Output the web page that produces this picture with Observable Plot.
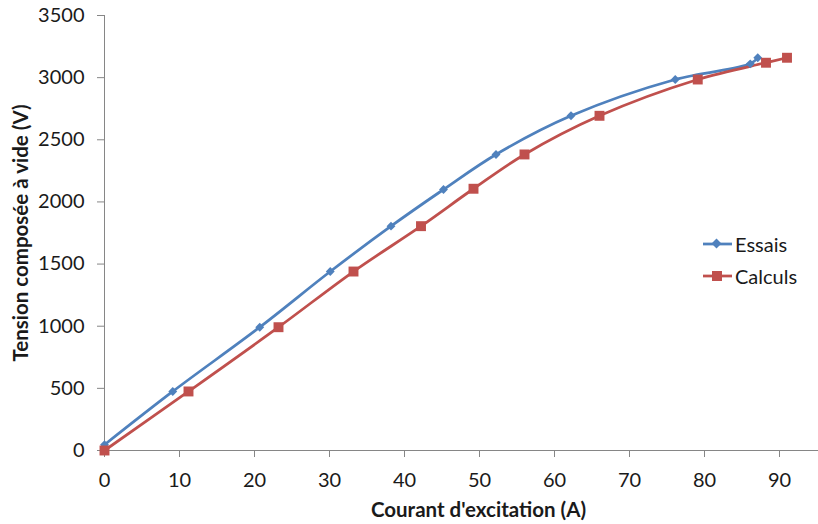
<!DOCTYPE html>
<html>
<head>
<meta charset="utf-8">
<script src="https://cdn.jsdelivr.net/npm/d3@7"></script>
<script src="https://cdn.jsdelivr.net/npm/@observablehq/plot@0.6"></script>
<style>
  html, body { margin: 0; padding: 0; background: #fff; }
  #wrap { position: relative; width: 818px; height: 524px; font-family: Lato, "Open Sans", sans-serif; }
  #legend { position: absolute; left: 703px; top: 228px; font-size: 20px; color: #1a1a1a; }
  #legend .item { display: flex; align-items: center; height: 32px; }
  #legend .item + .item { margin-top: 0px; }
  #legend svg { margin-right: 3px; }
</style>
</head>
<body>
<div id="wrap">
  <div id="legend"></div>
</div>
<script>
// Series: Essais (measured) and Calculs (computed)
const essaisX = [0, 9.1, 20.7, 30.1, 38.2, 45.2, 52.2, 62.2, 76.1, 86.1, 87.1];
const essaisY = [46, 475, 992, 1440, 1805, 2100, 2382, 2693, 2985, 3111, 3160];
const calculsX = [0, 11.2, 23.2, 33.2, 42.2, 49.2, 56.0, 66.0, 79.1, 88.2, 91.0];
const calculsY = [0, 475, 992, 1440, 1805, 2106, 2382, 2693, 2985, 3120, 3160];
const seriesNames = ["Essais", "Calculs"];
const seriesColors = ["#4F81BD", "#C0504D"];
const xTicks = [0, 10, 20, 30, 40, 50, 60, 70, 80, 90];
const yTicks = [0, 500, 1000, 1500, 2000, 2500, 3000, 3500];
const xTitle = "Courant d'excitation (A)";
const yTitle = "Tension composée à vide (V)";

const essais = essaisX.map((x, i) => ({x, y: essaisY[i]}));
const calculs = calculsX.map((x, i) => ({x, y: calculsY[i]}));

const axisGray = "#868686";
const textColor = "#1a1a1a";

const chart = Plot.plot({
  width: 818,
  height: 524,
  marginLeft: 104,
  marginRight: 0,
  marginTop: 15,
  marginBottom: 74,
  style: { fontFamily: "Lato, 'Open Sans', sans-serif", background: "#fff" },
  x: { domain: [0, 95.2] },
  y: { domain: [0, 3500] },
  marks: [
    Plot.axisX({ticks: xTicks, tickFormat: d3.format("d"), tickSize: 7, tickPadding: 15, fontSize: 20, stroke: axisGray, fill: textColor, label: null}),
    Plot.axisY({ticks: yTicks, tickFormat: d3.format("d"), tickSize: 7, tickPadding: 13, fontSize: 20, stroke: axisGray, fill: textColor, label: null}),
    Plot.ruleX([0], {stroke: axisGray}),
    Plot.ruleY([0], {stroke: axisGray}),
    Plot.line(essais, {x: "x", y: "y", stroke: seriesColors[0], strokeWidth: 2.75, curve: "catmull-rom"}),
    Plot.line(calculs, {x: "x", y: "y", stroke: seriesColors[1], strokeWidth: 2.75, curve: "catmull-rom"}),
    Plot.dot(essais, {x: "x", y: "y", symbol: "diamond2", r: 4, fill: seriesColors[0], stroke: null}),
    Plot.dot(calculs, {x: "x", y: "y", symbol: "square", r: 5.6, fill: seriesColors[1], stroke: null}),
    Plot.text([xTitle], {frameAnchor: "bottom", textAnchor: "middle", dx: 17, dy: 66, fontSize: 20.5, fontWeight: "bold", fill: textColor}),
    Plot.text([yTitle], {frameAnchor: "left", textAnchor: "middle", rotate: -90, dx: -83, fontSize: 20.5, fontWeight: "bold", fill: textColor})
  ]
});

const wrap = document.getElementById("wrap");
wrap.insertBefore(chart, wrap.firstChild);

// Legend (HTML overlay)
const legend = document.getElementById("legend");
seriesNames.forEach((name, i) => {
  const item = document.createElement("div");
  item.className = "item";
  const marker = i === 0
    ? `<rect x="10" y="3" width="7" height="7" transform="rotate(45 13.5 6.5)" fill="${seriesColors[i]}"/>`
    : `<rect x="9" y="2" width="10" height="10" fill="${seriesColors[i]}"/>`;
  item.innerHTML = `<svg width="29" height="14"><line x1="0" x2="29" y1="7" y2="7" stroke="${seriesColors[i]}" stroke-width="2.75"/>${marker}</svg><span>${name}</span>`;
  legend.appendChild(item);
});
</script>
</body>
</html>
